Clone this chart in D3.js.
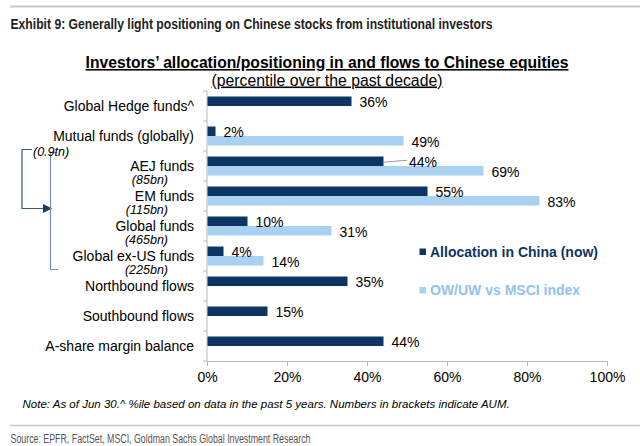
<!DOCTYPE html>
<html>
<head>
<meta charset="utf-8">
<script src="https://cdn.jsdelivr.net/npm/d3@7"></script>
<style>
  html, body { margin: 0; padding: 0; background: #fff; }
  svg { display: block; }
  text { font-family: "Liberation Sans", Arial, sans-serif; fill: #000; }
</style>
</head>
<body>
<svg id="chart" width="640" height="446"></svg>
<script>
// ---- data ----
const categories = [
  "Global Hedge funds^",
  "Mutual funds (globally)",
  "AEJ funds",
  "EM funds",
  "Global funds",
  "Global ex-US funds",
  "Northbound flows",
  "Southbound flows",
  "A-share margin balance"
];
const subLabels = [null, null, "(85bn)", "(115bn)", "(465bn)", "(225bn)", null, null, null];
const allocationNow = [36, 2, 44, 55, 10, 4, 35, 15, 44];
const owUwVsMsci = [null, 49, 69, 83, 31, 14, null, null, null];
const seriesNames = ["Allocation in China (now)", "OW/UW vs MSCI index"];
const xTicks = [0, 20, 40, 60, 80, 100];

const exhibitTitle = "Exhibit 9: Generally light positioning on Chinese stocks from institutional investors";
const chartTitle = "Investors\u2019 allocation/positioning in and flows to Chinese equities";
const chartSubtitle = "(percentile over the past decade)";
const noteText = "Note: As of Jun 30.^ %ile based on data in the past 5 years. Numbers in brackets indicate AUM.";
const sourceText = "Source: EPFR, FactSet, MSCI, Goldman Sachs Global Investment Research";
const bracketLabel = "(0.9tn)";

// ---- styles ----
const darkColor = "#0c3563";
const lightColor = "#a9d1f1";
const legendLightText = "#8fc4ee";
const axisColor = "#b8b8b8";

const svg = d3.select("#chart");

// header (condensed look via horizontal compression)
svg.append("line").attr("x1", 10).attr("x2", 640).attr("y1", 6.5).attr("y2", 6.5)
  .attr("stroke", "#c8c8c8").attr("stroke-width", 2);
svg.append("text").attr("x", 10.5).attr("y", 29)
  .attr("textLength", 482).attr("lengthAdjust", "spacingAndGlyphs")
  .style("font-size", "14px").style("font-weight", "bold").style("fill", "#222")
  .text(exhibitTitle);

// chart title
svg.append("text").attr("x", 327).attr("y", 68).attr("text-anchor", "middle")
  .style("font-size", "15.7px").style("font-weight", "bold")
  .style("text-decoration", "underline").text(chartTitle);
svg.append("text").attr("x", 327).attr("y", 85.5).attr("text-anchor", "middle")
  .style("font-size", "15.8px").style("text-decoration", "underline").text(chartSubtitle);

// scales
const x = d3.scaleLinear().domain([0, 100]).range([207, 607]);
const y = d3.scaleBand().domain(categories).range([91, 361])
  .paddingInner(0.367).paddingOuter(0.1835);
const sub = d3.scaleBand().domain(["now", "ow"]).range([0, y.bandwidth()]);

// y-axis line and ticks at band boundaries
const g = svg.append("g");
g.append("line").attr("x1", x(0)).attr("x2", x(0)).attr("y1", y.range()[0]).attr("y2", y.range()[1])
  .attr("stroke", axisColor);
const boundaries = categories.map(c => y(c) - y.step() * y.paddingInner() / 2).concat([y.range()[1]]);
g.selectAll(".ytick").data(boundaries).enter().append("line")
  .attr("x1", x(0) - 4).attr("x2", x(0)).attr("y1", d => d).attr("y2", d => d)
  .attr("stroke", axisColor);

// x-axis
const xAxis = d3.axisBottom(x).tickValues(xTicks).tickFormat(d => d + "%").tickSize(5).tickPadding(6);
const xg = svg.append("g").attr("transform", `translate(0,${y.range()[1]})`).call(xAxis);
xg.select(".domain").attr("stroke", axisColor);
xg.selectAll(".tick line").attr("stroke", axisColor);
xg.selectAll(".tick text").style("font-size", "14px").style("font-family", "'Liberation Sans', Arial, sans-serif").attr("fill", "#000");

// bars
const barsNow = categories.map((c, i) => ({ c, v: allocationNow[i], s: "now" }));
const barsOw = categories.map((c, i) => ({ c, v: owUwVsMsci[i], s: "ow" })).filter(d => d.v !== null);

svg.selectAll(".bar-ow").data(barsOw).enter().append("rect")
  .attr("x", x(0) + 0.5).attr("y", d => y(d.c) + sub(d.s))
  .attr("width", d => x(d.v) - x(0)).attr("height", sub.bandwidth())
  .attr("fill", lightColor);
svg.selectAll(".bar-now").data(barsNow).enter().append("rect")
  .attr("x", x(0) + 0.5).attr("y", d => y(d.c) + sub(d.s))
  .attr("width", d => x(d.v) - x(0)).attr("height", sub.bandwidth())
  .attr("fill", darkColor);

// value labels
const allBars = barsNow.concat(barsOw);
svg.selectAll(".vlabel").data(allBars).enter().append("text")
  .attr("x", d => x(d.v) + (d.c === "AEJ funds" && d.s === "now" ? 26 : 8.5))
  .attr("y", d => y(d.c) + sub(d.s) + sub.bandwidth() / 2 + 6)
  .style("font-size", "14px")
  .text(d => d.v + "%");
// leader line for AEJ allocation label
const aej = barsNow.find(d => d.c === "AEJ funds");
svg.append("line")
  .attr("x1", x(aej.v)).attr("y1", y(aej.c) + sub.bandwidth() / 2 + 1)
  .attr("x2", x(aej.v) + 24).attr("y2", y(aej.c) + sub.bandwidth() / 2 - 1)
  .attr("stroke", "#999").attr("stroke-width", 1);

// category labels
svg.selectAll(".clabel").data(categories).enter().append("text")
  .attr("x", x(0) - 13).attr("y", d => y(d) + y.bandwidth() / 2 + 5)
  .attr("text-anchor", "end").style("font-size", "14px").text(d => d);
svg.selectAll(".slabel").data(categories.map((c, i) => ({ c, t: subLabels[i] })).filter(d => d.t))
  .enter().append("text")
  .attr("x", 168).attr("y", d => y(d.c) + y.bandwidth() / 2 + 18)
  .attr("text-anchor", "end").style("font-size", "12.5px").style("font-style", "italic")
  .text(d => d.t);

// brackets
const bracketColor = "#36597e";
const innerColor = "#7690ab";
const topY = y("Mutual funds (globally)") + y.bandwidth() / 2 + 13.5;
const arrowY = y("EM funds") + y.bandwidth() / 2 + 12.5;
const innerTop = y("AEJ funds") - 4;
const innerBot = y("Global ex-US funds") + y.bandwidth() + 4;
svg.append("path")
  .attr("d", `M32,${topY} H22 V${arrowY} H44`)
  .attr("fill", "none").attr("stroke", bracketColor).attr("stroke-width", 1.2);
svg.append("path")
  .attr("d", `M43,${arrowY - 4.5} L52,${arrowY} L43,${arrowY + 4.5} Z`)
  .attr("fill", "#143d68");
svg.append("path")
  .attr("d", `M57,${innerTop} H50.5 V${innerBot} H58`)
  .attr("fill", "none").attr("stroke", innerColor).attr("stroke-width", 1.2);
svg.append("text").attr("x", 33).attr("y", topY + 6.5)
  .style("font-size", "12.5px").style("font-style", "italic").text(bracketLabel);

// legend
const legend = svg.append("g");
const legendY = [251.5, 290];
const legendColors = [darkColor, lightColor];
const legendTextColors = [darkColor, legendLightText];
seriesNames.forEach((n, i) => {
  legend.append("rect").attr("x", 419.5).attr("y", legendY[i] - 3).attr("width", 6.5).attr("height", 6.5)
    .attr("fill", legendColors[i]);
  legend.append("text").attr("x", 430).attr("y", legendY[i] + 5)
    .style("font-size", "14px").style("font-weight", "bold").style("fill", legendTextColors[i])
    .text(n);
});

// note & source
svg.append("text").attr("x", 22.5).attr("y", 408)
  .style("font-size", "11.5px").style("font-style", "italic").text(noteText);
svg.append("line").attr("x1", 10).attr("x2", 640).attr("y1", 425.5).attr("y2", 425.5)
  .attr("stroke", "#c8c8c8").attr("stroke-width", 1.5);
svg.append("text").attr("x", 10.5).attr("y", 442.5)
  .attr("textLength", 300).attr("lengthAdjust", "spacingAndGlyphs")
  .style("font-size", "12.5px").style("fill", "#555").text(sourceText);
</script>
</body>
</html>
